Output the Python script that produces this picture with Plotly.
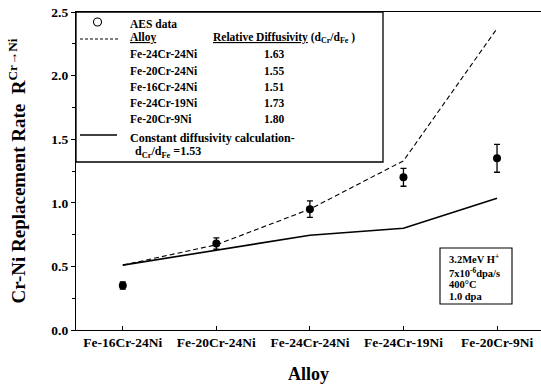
import plotly.graph_objects as go

alloys = ["Fe-16Cr-24Ni", "Fe-20Cr-24Ni", "Fe-24Cr-24Ni", "Fe-24Cr-19Ni", "Fe-20Cr-9Ni"]
aes_data = [0.35, 0.68, 0.95, 1.20, 1.35]
aes_err = [0.028, 0.045, 0.065, 0.07, 0.11]
relative_diffusivity_calc = [0.51, 0.67, 0.95, 1.33, 2.37]
constant_diffusivity_calc = [0.51, 0.625, 0.745, 0.80, 1.035]

legend_alloys = ["Fe-24Cr-24Ni", "Fe-20Cr-24Ni", "Fe-16Cr-24Ni", "Fe-24Cr-19Ni", "Fe-20Cr-9Ni"]
legend_ratios = ["1.63", "1.55", "1.51", "1.73", "1.80"]

y_ticks = [0, 0.5, 1.0, 1.5, 2.0, 2.5]
y_ticklabels = ["0.0", "0.5", "1.0", "1.5", "2.0", "2.5"]

W, H = 541, 392
L, T, B, R = 76, 12, 62, 0
PW, PH = W - L - R, H - T - B
FONT = "Liberation Serif"


def px(x):
    return (x - L) / PW


def py(y):
    return (H - B - y) / PH


fig = go.Figure()
fig.add_trace(go.Scatter(x=alloys, y=relative_diffusivity_calc, mode="lines",
                         line=dict(color="black", width=1.1, dash="5px,3px"),
                         showlegend=False))
fig.add_trace(go.Scatter(x=alloys, y=constant_diffusivity_calc, mode="lines",
                         line=dict(color="black", width=1.6), showlegend=False))
fig.add_trace(go.Scatter(x=alloys, y=aes_data, mode="markers",
                         marker=dict(color="black", size=8),
                         error_y=dict(type="data", array=aes_err, color="black",
                                      thickness=1.3, width=3),
                         showlegend=False))

shapes = []
annotations = []
# legend box
shapes.append(dict(type="rect", xref="paper", yref="paper", x0=px(76), x1=px(383),
                   y0=py(162), y1=py(12), line=dict(color="black", width=1.3),
                   fillcolor="white", layer="above"))
shapes.append(dict(type="circle", xref="paper", yref="paper", x0=px(93.5), x1=px(101.5),
                   y0=py(26), y1=py(18), line=dict(color="black", width=1.1), layer="above"))
shapes.append(dict(type="line", xref="paper", yref="paper", x0=px(80), x1=px(118),
                   y0=py(39), y1=py(39), line=dict(color="black", width=1, dash="3px,2px"),
                   layer="above"))
shapes.append(dict(type="line", xref="paper", yref="paper", x0=px(80), x1=px(117),
                   y0=py(135), y1=py(135), line=dict(color="black", width=1.3), layer="above"))


def txt(x, y, s, size=11, anchor="left"):
    annotations.append(dict(x=px(x), y=py(y), xref="paper", yref="paper", text=s,
                            showarrow=False, xanchor=anchor, yanchor="middle",
                            font=dict(family=FONT, size=size, color="black", weight="bold")))


txt(128, 24, "AES data", 11.5)
txt(128, 38, "<u>Alloy</u>", 11.5)
txt(211, 38, "<u>Relative Diffusivity</u> (d<sub>Cr</sub>/d<sub>Fe</sub> )", 11.5)
row_y = [54, 71, 87, 103, 119]
for a, r, y in zip(legend_alloys, legend_ratios, row_y):
    txt(128, y, a, 11.5)
    txt(262, y, r, 11.5)
txt(128, 138, "Constant diffusivity calculation-", 12)
txt(133, 152, "d<sub>Cr</sub>/d<sub>Fe</sub> =1.53", 12)

# info box
shapes.append(dict(type="rect", xref="paper", yref="paper", x0=px(440), x1=px(512),
                   y0=py(304), y1=py(248), line=dict(color="black", width=1.1),
                   fillcolor="white", layer="above"))
txt(447, 258, "3.2MeV H<sup>+</sup>", 10.5)
txt(447, 272, "7x10<sup>-6</sup>dpa/s", 10.5)
txt(447, 284.5, "400°C", 10.5)
txt(447, 296.5, "1.0 dpa", 10.5)

fig.update_layout(
    width=W, height=H,
    margin=dict(l=L, r=R, t=T, b=B),
    plot_bgcolor="white", paper_bgcolor="white",
    font=dict(family=FONT, size=13.5, color="black", weight="bold"),
    shapes=shapes, annotations=annotations,
    xaxis=dict(range=[-0.5, 4.47], showline=True, linecolor="black", linewidth=1.3,
               mirror=True, ticks="inside", ticklen=4, tickcolor="black",
               showgrid=False, zeroline=False,
               tickfont=dict(family=FONT, size=13.5, weight="bold"),
               title=dict(text="Alloy", font=dict(family=FONT, size=18, weight="bold"),
                          standoff=18)),
    yaxis=dict(range=[0, 2.5], tickvals=y_ticks, ticktext=y_ticklabels,
               showline=True, linecolor="black", linewidth=1.3,
               ticks="outside", ticklen=4, tickcolor="black",
               minor=dict(dtick=0.25, ticks="outside", ticklen=3, tickcolor="black"),
               showgrid=False, zeroline=False,
               tickfont=dict(family=FONT, size=13.5, weight="bold"),
               title=dict(text="Cr-Ni Replacement Rate  R<sup>Cr→Ni</sup>",
                          font=dict(family=FONT, size=19, weight="bold"), standoff=20)),
)

fig.write_html("out.html")
